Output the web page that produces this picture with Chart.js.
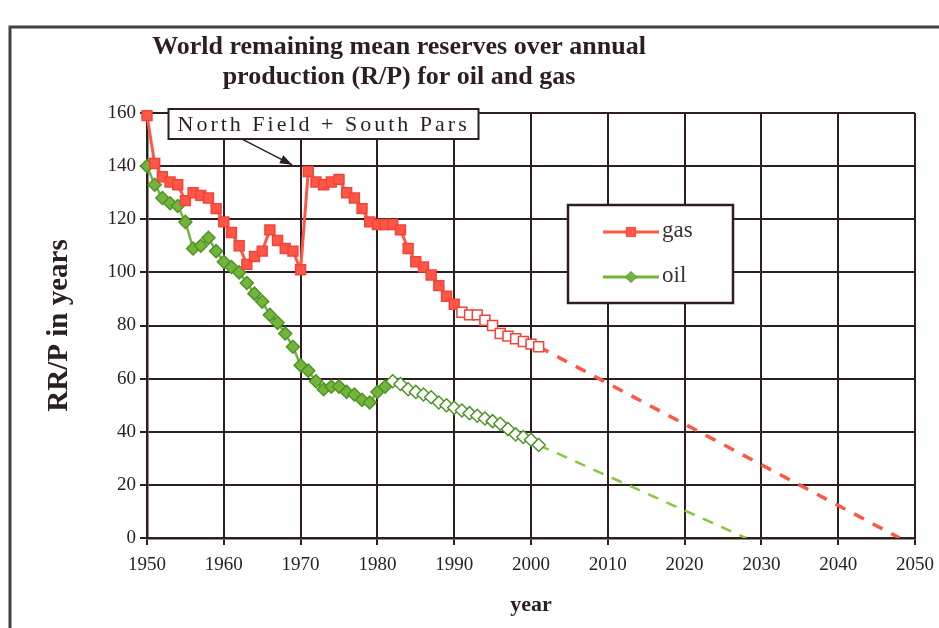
<!DOCTYPE html>
<html>
<head>
<meta charset="utf-8">
<script src="https://cdn.jsdelivr.net/npm/chart.js@4/dist/chart.umd.min.js"></script>
<style>
  html, body { margin: 0; padding: 0; background: #fff; }
  #wrap { position: relative; width: 939px; height: 628px; }
</style>
</head>
<body>
<div id="wrap"><canvas id="rp" width="939" height="628"></canvas></div>
<script>
// R/P ratio, years of remaining reserves at that year's production
const YEARS = [1950,1951,1952,1953,1954,1955,1956,1957,1958,1959,
               1960,1961,1962,1963,1964,1965,1966,1967,1968,1969,
               1970,1971,1972,1973,1974,1975,1976,1977,1978,1979,
               1980,1981,1982,1983,1984,1985,1986,1987,1988,1989,
               1990,1991,1992,1993,1994,1995,1996,1997,1998,1999,
               2000,2001];
const GAS = [159,141,136,134,133,127,130,129,128,124,
             119,115,110,103,106,108,116,112,109,108,
             101,138,134,133,134,135,130,128,124,119,
             118,118,118,116,109,104,102, 99, 95, 91,
              88, 85, 84, 84, 82, 80, 77, 76, 75, 74,
              73, 72];
const OIL = [140,133,128,126,125,119,109,110,113,108,
             104,102,100, 96, 92, 89, 84, 81, 77, 72,
              65, 63, 59, 56, 57, 57, 55, 54, 52, 51,
              55, 57, 59, 58, 56, 55, 54, 53, 51, 50,
              49, 48, 47, 46, 45, 44, 43, 41, 39, 38,
              37, 35];

// straight-line run-out of the ratio to zero
const GAS_TREND_YEARS = [2001, 2048];
const GAS_TREND       = [72, 0];
const OIL_TREND_YEARS = [2001, 2028];
const OIL_TREND       = [35, 0];

// open markers from these years on
const GAS_OPEN_FROM = 1991;
const OIL_OPEN_FROM = 1982;

const X_TICKS = [1950,1960,1970,1980,1990,2000,2010,2020,2030,2040,2050];
const Y_TICKS = [0,20,40,60,80,100,120,140,160];

const TITLE  = ['World remaining mean reserves over annual', 'production (R/P) for oil and gas'];
const NOTE   = 'North Field + South Pars';
const LEGEND = ['gas', 'oil'];

const RED    = '#ff5646', RED_D   = '#f0443a';
const GREEN  = '#74b43a', GREEN_D = '#4e9428', GREEN_L = '#8cc640';
const INK    = '#2d1f20';
const SERIF  = "'Liberation Serif', 'DejaVu Serif', serif";

const pts = (xs, ys) => xs.map((x, i) => ({ x, y: ys[i] }));

// frame, title, legend box and the callout
const decor = {
  id: 'decor',
  beforeDraw(chart) {
    const c = chart.ctx;
    c.save();
    c.fillStyle = '#fff';
    c.fillRect(0, 0, chart.width, chart.height);
    c.strokeStyle = '#4a4040';
    c.lineWidth = 3;
    c.beginPath();
    c.moveTo(10, 628); c.lineTo(10, 27); c.lineTo(939, 27);
    c.stroke();
    c.fillStyle = INK;
    c.font = 'bold 26px ' + SERIF;
    c.textAlign = 'center';
    c.textBaseline = 'middle';
    c.fillText(TITLE[0], 399, 47);
    c.fillText(TITLE[1], 399, 77);
    c.restore();
  },
  afterDraw(chart) {
    const c = chart.ctx, xs = chart.scales.x, ys = chart.scales.y;
    c.save();

    // callout box + arrow to the 1971 jump
    const bx = xs.getPixelForValue(1952.8), by = ys.getPixelForValue(161.5);
    const bw = 310, bh = 30;
    c.fillStyle = '#fff';
    c.fillRect(bx, by, bw, bh);
    c.strokeStyle = INK; c.lineWidth = 2;
    c.strokeRect(bx, by, bw, bh);
    c.fillStyle = INK;
    c.font = '22px ' + SERIF;
    c.letterSpacing = '3px';
    c.textAlign = 'left'; c.textBaseline = 'middle';
    c.fillText(NOTE, bx + 9, by + bh / 2 + 1);
    c.letterSpacing = '0px';

    const ax0 = xs.getPixelForValue(1962.5), ay0 = ys.getPixelForValue(150);
    const ax1 = xs.getPixelForValue(1968.9), ay1 = ys.getPixelForValue(140.5);
    const ang = Math.atan2(ay1 - ay0, ax1 - ax0);
    c.lineWidth = 1.5;
    c.beginPath(); c.moveTo(ax0, ay0); c.lineTo(ax1, ay1); c.stroke();
    c.beginPath();
    c.moveTo(ax1, ay1);
    c.lineTo(ax1 - 13 * Math.cos(ang - 0.35), ay1 - 13 * Math.sin(ang - 0.35));
    c.lineTo(ax1 - 13 * Math.cos(ang + 0.35), ay1 - 13 * Math.sin(ang + 0.35));
    c.closePath(); c.fill();

    // legend
    const lx = 568, ly = 205, lw = 165, lh = 98;
    c.fillStyle = '#fff';
    c.fillRect(lx, ly, lw, lh);
    c.strokeStyle = INK; c.lineWidth = 2.5;
    c.strokeRect(lx, ly, lw, lh);
    const rows = [
      { y: ly + 27, col: RED,   dark: RED_D,   style: 'rect',    r: 6.5 },
      { y: ly + 72, col: GREEN, dark: GREEN_D, style: 'rectRot', r: 5.5 }
    ];
    rows.forEach((row, i) => {
      c.strokeStyle = row.col; c.lineWidth = 3;
      c.beginPath(); c.moveTo(lx + 35, row.y); c.lineTo(lx + 91, row.y); c.stroke();
      c.fillStyle = row.col; c.strokeStyle = row.dark; c.lineWidth = 1;
      Chart.helpers.drawPoint(c, { pointStyle: row.style, radius: row.r, borderWidth: 1 }, lx + 63, row.y);
      c.fillStyle = '#3a3030';
      c.font = '23px ' + SERIF;
      c.textAlign = 'left'; c.textBaseline = 'middle';
      c.fillText(LEGEND[i], lx + 94, row.y - 1);
    });
    c.restore();
  }
};

new Chart(document.getElementById('rp'), {
  type: 'line',
  data: {
    datasets: [
      {
        label: 'gas',
        data: pts(YEARS, GAS),
        borderColor: RED, borderWidth: 3,
        pointStyle: 'rect', pointRadius: 7,
        pointBorderColor: RED_D, pointBorderWidth: 1.5,
        pointBackgroundColor: ctx => (ctx.raw && ctx.raw.x >= GAS_OPEN_FROM) ? '#fff' : RED,
        tension: 0, clip: false
      },
      {
        label: 'oil',
        data: pts(YEARS, OIL),
        borderColor: GREEN, borderWidth: 2.5,
        pointStyle: 'rectRot', pointRadius: 6.5,
        pointBorderColor: GREEN_D, pointBorderWidth: 1.5,
        pointBackgroundColor: ctx => (ctx.raw && ctx.raw.x >= OIL_OPEN_FROM) ? '#fff' : GREEN,
        tension: 0, clip: false
      },
      {
        label: 'gas trend',
        data: pts(GAS_TREND_YEARS, GAS_TREND),
        borderColor: RED, borderWidth: 3.5, borderDash: [11, 10],
        pointRadius: 0
      },
      {
        label: 'oil trend',
        data: pts(OIL_TREND_YEARS, OIL_TREND),
        borderColor: GREEN_L, borderWidth: 2.5, borderDash: [11, 9],
        pointRadius: 0
      }
    ]
  },
  options: {
    responsive: false,
    animation: false,
    layout: { padding: { left: 42, top: 113, right: 24, bottom: 8 } },
    plugins: { legend: { display: false }, title: { display: false }, tooltip: { enabled: false } },
    scales: {
      x: {
        type: 'linear', min: 1950, max: 2050,
        afterFit: s => { s.height = 82; },
        afterBuildTicks: s => { s.ticks = X_TICKS.map(v => ({ value: v })); },
        grid: { color: INK, lineWidth: 2, tickLength: 7, drawTicks: true },
        border: { color: INK, width: 2.5 },
        ticks: { color: '#2a2020', font: { family: SERIF, size: 19, lineHeight: 1.6 }, padding: 5, maxRotation: 0, callback: v => String(v) },
        title: { display: true, text: 'year', color: '#2a2020', font: { family: SERIF, size: 22, weight: 'bold' }, padding: { top: 0, bottom: 1 } }
      },
      y: {
        min: 0, max: 160,
        afterFit: s => { s.width = 105; },
        afterBuildTicks: s => { s.ticks = Y_TICKS.map(v => ({ value: v })); },
        grid: { color: INK, lineWidth: 2, tickLength: 7 },
        border: { color: INK, width: 2.5 },
        ticks: { color: '#2a2020', font: { family: SERIF, size: 19 }, padding: 4, callback: v => String(v) },
        title: { display: true, text: 'RR/P in years', color: '#2a2020', font: { family: SERIF, size: 29, weight: 'bold' }, padding: { top: 0, bottom: 0 } }
      }
    }
  },
  plugins: [decor]
});
</script>
</body>
</html>
